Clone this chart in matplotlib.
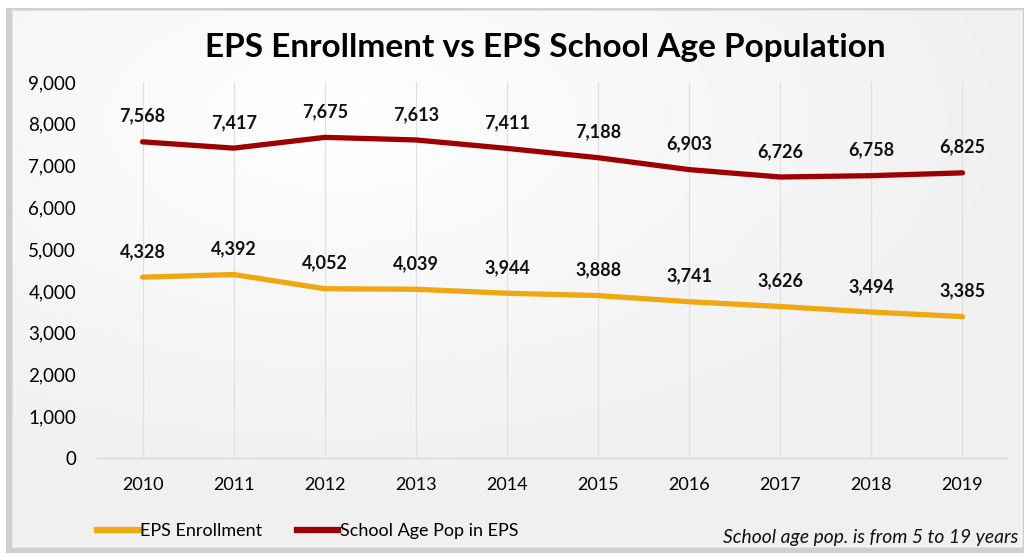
import matplotlib
matplotlib.use("Agg")
import numpy as np
import matplotlib.pyplot as plt
from matplotlib.patches import Rectangle
from matplotlib.lines import Line2D

years = ["2010", "2011", "2012", "2013", "2014", "2015", "2016", "2017", "2018", "2019"]
enrollment = [4328, 4392, 4052, 4039, 3944, 3888, 3741, 3626, 3494, 3385]
school_age_pop = [7568, 7417, 7675, 7613, 7411, 7188, 6903, 6726, 6758, 6825]
yticks = [0, 1000, 2000, 3000, 4000, 5000, 6000, 7000, 8000, 9000]

FONT = "Lato"
GOLD = "#F0A811"
RED = "#9E0000"

W, H = 1028, 557
fig = plt.figure(figsize=(W / 100, H / 100), dpi=100)
fig.patch.set_facecolor("white")

# chart frame with shadow
fig.patches.append(Rectangle((6 / W, 1 - 553 / H), 1018 / W, 545 / H, transform=fig.transFigure,
                             facecolor="#cfcfcf", edgecolor="none", zorder=-5))
fig.patches.append(Rectangle((12 / W, 1 - 547 / H), 1010 / W, 537 / H, transform=fig.transFigure,
                             facecolor="#fbfbfb", edgecolor="#e2e2e2", lw=0.8, zorder=-4))

# subtle radial background gradient
bg = fig.add_axes([13 / W, 1 - 546 / H, 1008 / W, 535 / H], zorder=-3)
gx, gy = np.meshgrid(np.linspace(-1, 1, 200), np.linspace(-1, 1, 110))
r = np.clip(np.sqrt(((gx + 0.35) / 1.3) ** 2 + ((gy + 0.6) / 1.3) ** 2), 0, 1)
shade = 1.0 - 0.055 * r
bg.imshow(np.dstack([shade, shade, shade]), aspect="auto", interpolation="bilinear")
bg.axis("off")

ax = fig.add_axes([97 / W, 1 - 458 / H, (1008 - 97) / W, (458 - 82) / H])
ax.set_facecolor("none")
x = list(range(len(years)))

ax.plot(x, enrollment, color=GOLD, lw=3.8, solid_capstyle="round", solid_joinstyle="round", zorder=3)
ax.plot(x, school_age_pop, color=RED, lw=3.8, solid_capstyle="round", solid_joinstyle="round", zorder=3)

for xi, v in zip(x, enrollment):
    ax.annotate(f"{v:,}", (xi, v), xytext=(0, 18.5), textcoords="offset points", ha="center", va="center",
                fontsize=13, fontweight="bold", family=FONT, color="#111111")
for xi, v in zip(x, school_age_pop):
    ax.annotate(f"{v:,}", (xi, v), xytext=(0, 18.5), textcoords="offset points", ha="center", va="center",
                fontsize=13, fontweight="bold", family=FONT, color="#111111")

ax.set_xlim(-0.5, len(years) - 0.5)
ax.set_ylim(0, 9000)
ax.set_xticks(x)
ax.set_xticklabels(years, family=FONT, fontsize=13)
ax.set_yticks(yticks)
ax.set_yticklabels([f"{t:,}" for t in yticks], family=FONT, fontsize=13.5)
ax.tick_params(length=0, pad=14)
ax.tick_params(axis="y", pad=15)
for s in ["top", "right", "left"]:
    ax.spines[s].set_visible(False)
ax.spines["bottom"].set_color("#d9d9d9")
ax.spines["bottom"].set_linewidth(1)
ax.grid(axis="x", color="#e0e0e0", lw=0.9)
ax.set_axisbelow(True)

fig.text(545 / W, 1 - 47 / H, "EPS Enrollment vs EPS School Age Population", ha="center", va="center",
         fontsize=24, fontweight="bold", family=FONT, color="#000000")

# legend
handles = [Line2D([], [], color=GOLD, lw=4.5), Line2D([], [], color=RED, lw=4.5)]
leg = fig.legend(handles, ["EPS Enrollment", "School Age Pop in EPS"], loc="center left",
                 bbox_to_anchor=(97 / W, 1 - 531 / H), ncol=2, frameon=False,
                 prop={"family": FONT, "size": 13}, handlelength=2.3, handletextpad=0.1,
                 columnspacing=1.9, borderaxespad=0, borderpad=0)

fig.text(1018 / W, 1 - 538 / H, "School age pop. is from 5 to 19 years", ha="right", va="center",
         fontsize=13.9, style="italic", family=FONT, color="#111111")

fig.savefig("out.png", dpi=100)
